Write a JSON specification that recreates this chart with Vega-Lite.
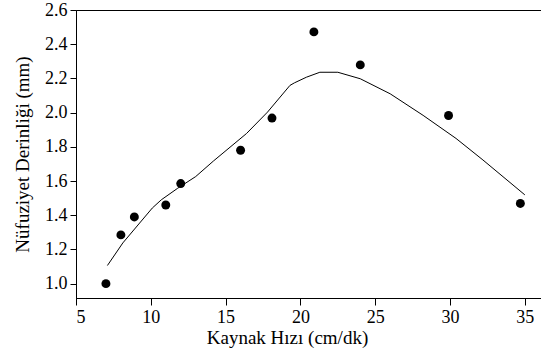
{
  "$schema": "https://vega.github.io/schema/vega-lite/v6.json",
  "width": 465,
  "height": 288,
  "autosize": {"type": "none"},
  "padding": {"left": 76, "top": 10, "right": 0, "bottom": 56},
  "background": "white",
  "config": {
    "view": {"stroke": "black", "strokeWidth": 1},
    "font": "Liberation Serif",
    "axis": {
      "grid": false,
      "domainColor": "black",
      "tickColor": "black",
      "labelColor": "black",
      "titleColor": "black",
      "titleFontWeight": "normal"
    }
  },
  "datasets": {
    "points": [
      {"hiz": 7.0, "derinlik": 1.0},
      {"hiz": 8.0, "derinlik": 1.285},
      {"hiz": 8.9, "derinlik": 1.39},
      {"hiz": 11.0, "derinlik": 1.46},
      {"hiz": 12.0, "derinlik": 1.585},
      {"hiz": 16.0, "derinlik": 1.78},
      {"hiz": 18.1, "derinlik": 1.968},
      {"hiz": 20.9, "derinlik": 2.472},
      {"hiz": 24.0, "derinlik": 2.279},
      {"hiz": 29.9, "derinlik": 1.983},
      {"hiz": 34.7, "derinlik": 1.469}
    ],
    "fit": [
      {"hiz": 7.1, "derinlik": 1.106},
      {"hiz": 8.13, "derinlik": 1.238},
      {"hiz": 10.1, "derinlik": 1.442},
      {"hiz": 10.7, "derinlik": 1.49},
      {"hiz": 11.8, "derinlik": 1.558},
      {"hiz": 13.0, "derinlik": 1.626},
      {"hiz": 14.2, "derinlik": 1.718},
      {"hiz": 16.4, "derinlik": 1.878},
      {"hiz": 17.8, "derinlik": 2.003},
      {"hiz": 19.3, "derinlik": 2.159},
      {"hiz": 19.6, "derinlik": 2.174},
      {"hiz": 20.4, "derinlik": 2.207},
      {"hiz": 21.3, "derinlik": 2.236},
      {"hiz": 22.5, "derinlik": 2.236},
      {"hiz": 24.0, "derinlik": 2.198},
      {"hiz": 26.0, "derinlik": 2.11},
      {"hiz": 28.2, "derinlik": 1.984},
      {"hiz": 30.4, "derinlik": 1.849},
      {"hiz": 32.2, "derinlik": 1.723},
      {"hiz": 35.0, "derinlik": 1.519}
    ]
  },
  "encoding": {
    "x": {
      "field": "hiz",
      "type": "quantitative",
      "scale": {"domain": [5, 36.08], "nice": false, "zero": false},
      "axis": {
        "title": "Kaynak Hızı (cm/dk)",
        "values": [5, 10, 15, 20, 25, 30, 35],
        "labelOverlap": false,
        "labelFont": "Liberation Serif",
        "titleFont": "Liberation Serif",
        "labelFontSize": 18,
        "titleFontSize": 19,
        "tickSize": 7,
        "labelPadding": 3,
        "titleX": 211,
        "titleY": 45,
        "titleBaseline": "alphabetic",
        "titleAnchor": "start",
        "titleAlign": "center"
      }
    },
    "y": {
      "field": "derinlik",
      "type": "quantitative",
      "scale": {"domain": [0.916, 2.6], "nice": false, "zero": false},
      "axis": {
        "title": "Nüfuziyet Derinliği (mm)",
        "values": [1.0, 1.2, 1.4, 1.6, 1.8, 2.0, 2.2, 2.4, 2.6],
        "format": ".1f",
        "labelOverlap": false,
        "labelFont": "Liberation Serif",
        "titleFont": "Liberation Serif",
        "labelFontSize": 18,
        "titleFontSize": 19,
        "tickSize": 6,
        "labelPadding": 3,
        "titleX": -48,
        "titleBaseline": "alphabetic"
      }
    }
  },
  "layer": [
    {
      "data": {"name": "fit"},
      "mark": {"type": "line", "color": "black", "strokeWidth": 1}
    },
    {
      "data": {"name": "points"},
      "mark": {"type": "point", "filled": true, "color": "black", "opacity": 1, "size": 80}
    }
  ]
}
